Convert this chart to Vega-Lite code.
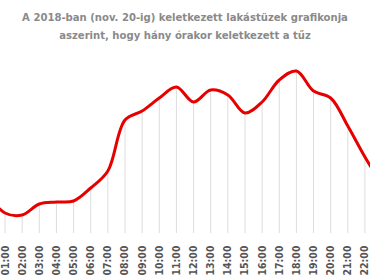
{
  "$schema": "https://vega.github.io/schema/vega-lite/v6.json",
  "autosize": "none",
  "width": 370,
  "height": 183,
  "padding": {"top": 50, "left": 0, "right": 0, "bottom": 45},
  "background": "white",
  "title": {
    "text": ["A 2018-ban (nov. 20-ig) keletkezett lakástüzek grafikonja", "aszerint, hogy hány órakor keletkezett a tűz"],
    "font": "DejaVu Sans Condensed, sans-serif",
    "fontSize": 11.2,
    "fontWeight": "bold",
    "color": "#8a8a8a",
    "lineHeight": 18,
    "anchor": "middle",
    "frame": "group",
    "offset": 9
  },
  "config": {"view": {"stroke": null}},
  "data": {"values": [
    {"hour": 0, "count": 38},
    {"hour": 1, "count": 20},
    {"hour": 2, "count": 18},
    {"hour": 3, "count": 29},
    {"hour": 4, "count": 31},
    {"hour": 5, "count": 32},
    {"hour": 6, "count": 45},
    {"hour": 7, "count": 62},
    {"hour": 8, "count": 113},
    {"hour": 9, "count": 122},
    {"hour": 10, "count": 135},
    {"hour": 11, "count": 146},
    {"hour": 12, "count": 131},
    {"hour": 13, "count": 143},
    {"hour": 14, "count": 138},
    {"hour": 15, "count": 120},
    {"hour": 16, "count": 131},
    {"hour": 17, "count": 153},
    {"hour": 18, "count": 162},
    {"hour": 19, "count": 142},
    {"hour": 20, "count": 135},
    {"hour": 21, "count": 107},
    {"hour": 22, "count": 76},
    {"hour": 23, "count": 48}
  ]},
  "encoding": {
    "x": {
      "field": "hour", "type": "quantitative",
      "scale": {"domain": [0.708, 22.295], "nice": false, "zero": false},
      "axis": {
        "title": null, "values": [1,2,3,4,5,6,7,8,9,10,11,12,13,14,15,16,17,18,19,20,21,22],
        "labelExpr": "(datum.value < 10 ? '0' : '') + datum.value + ':00'",
        "labelAngle": 270, "ticks": false, "domain": false, "grid": false,
        "labelPadding": 12,
        "labelFont": "DejaVu Sans Condensed, sans-serif",
        "labelFontSize": 10.5, "labelFontWeight": "bold", "labelColor": "#555555",
        "labelOverlap": false, "labelBound": false, "labelFlush": false
      }
    },
    "y": {
      "field": "count", "type": "quantitative",
      "scale": {"domain": [0, 183], "nice": false},
      "axis": null
    }
  },
  "layer": [
    {
      "mark": {"type": "rule", "color": "#dcdcdc", "strokeWidth": 1, "clip": true},
      "encoding": {"y2": {"datum": 0}}
    },
    {
      "mark": {"type": "line", "color": "#e60000", "strokeWidth": 3, "interpolate": "catmull-rom", "clip": true}
    }
  ]
}
